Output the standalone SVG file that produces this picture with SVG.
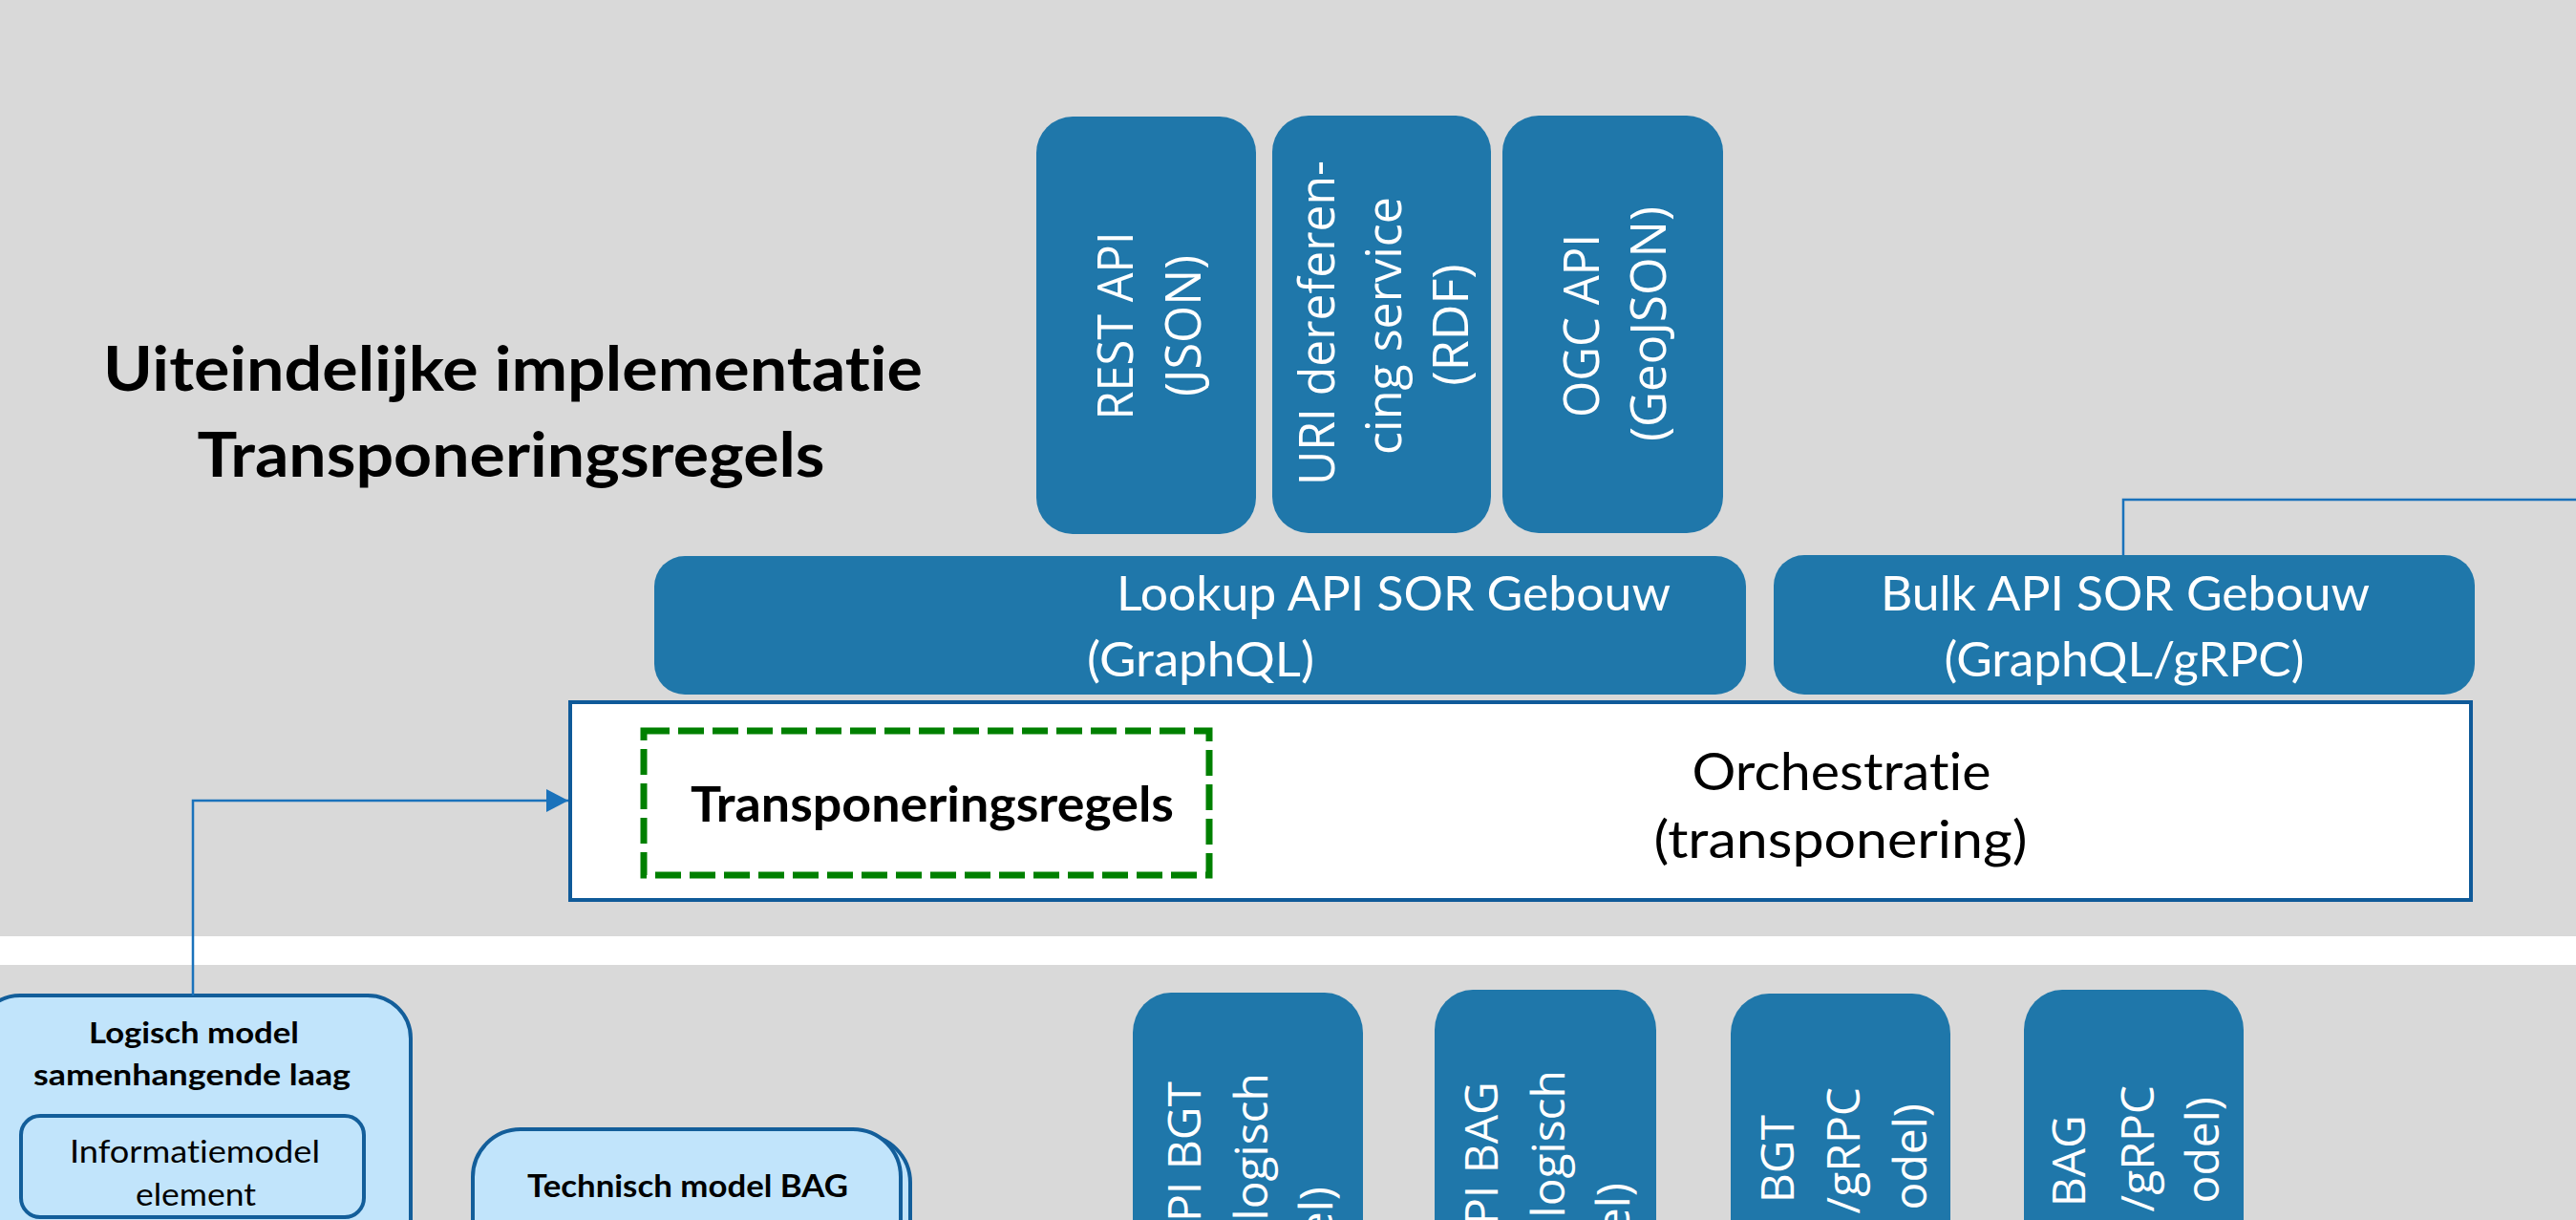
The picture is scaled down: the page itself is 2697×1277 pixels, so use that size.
<svg xmlns="http://www.w3.org/2000/svg" width="2697" height="1277" viewBox="0 0 2697 1277">
<style>
text{font-variant-ligatures:none}
.api{fill:#1f77aa}
.vt{font-family:"Open Sans","Liberation Sans",sans-serif;font-size:52px;fill:#ffffff}
.vb{font-family:"Open Sans","Liberation Sans",sans-serif;font-size:48px;fill:#ffffff}
.ht{font-family:Lato,"Liberation Sans",sans-serif;font-size:50px;fill:#ffffff}
.bk{font-family:Lato,"Liberation Sans",sans-serif;fill:#000000}
.bold{font-weight:bold}
.lb{fill:#c1e4fb;stroke:#135e9a;stroke-width:4}
.conn{fill:none;stroke:#1a72bb;stroke-width:2.5}
</style>
<defs>
<marker id="arr" viewBox="0 0 23 24" refX="23" refY="12" markerWidth="23" markerHeight="24" markerUnits="userSpaceOnUse" orient="auto">
<path d="M0,0 L23,12 L0,24 z" fill="#1a72bb"/>
</marker>
</defs>
<rect x="0" y="0" width="2697" height="1277" fill="#d9d9d9"/>
<rect x="0" y="980" width="2697" height="30" fill="#ffffff"/>

<g id="title">
<text class="bk bold" x="537" y="409" font-size="65" text-anchor="middle" textLength="858" lengthAdjust="spacingAndGlyphs">Uiteindelijke implementatie</text>
<text class="bk bold" x="535" y="499" font-size="65" text-anchor="middle" textLength="657" lengthAdjust="spacingAndGlyphs">Transponeringsregels</text>
</g>

<g id="rest-api">
<rect class="api" x="1085" y="122" width="230" height="437" rx="38" ry="38"/>
<text class="vt" transform="translate(1186,341) rotate(-90)" text-anchor="middle" textLength="197" lengthAdjust="spacingAndGlyphs">REST API</text>
<text class="vt" transform="translate(1257,341) rotate(-90)" text-anchor="middle" textLength="148" lengthAdjust="spacingAndGlyphs">(JSON)</text>
</g>

<g id="uri-service">
<rect class="api" x="1332" y="121" width="229" height="437" rx="38" ry="38"/>
<text class="vt" transform="translate(1397,338) rotate(-90)" text-anchor="middle" textLength="340" lengthAdjust="spacingAndGlyphs">URI dereferen-</text>
<text class="vt" transform="translate(1467,341) rotate(-90)" text-anchor="middle" textLength="270" lengthAdjust="spacingAndGlyphs">cing service</text>
<text class="vt" transform="translate(1537,340) rotate(-90)" text-anchor="middle">(RDF)</text>
</g>

<g id="ogc-api">
<rect class="api" x="1573" y="121" width="231" height="437" rx="38" ry="38"/>
<text class="vt" transform="translate(1674,341) rotate(-90)" text-anchor="middle" textLength="192" lengthAdjust="spacingAndGlyphs">OGC API</text>
<text class="vt" transform="translate(1744,339) rotate(-90)" text-anchor="middle" textLength="246" lengthAdjust="spacingAndGlyphs">(GeoJSON)</text>
</g>

<g id="lookup-api">
<rect class="api" x="685" y="582" width="1143" height="145" rx="32" ry="32"/>
<text class="ht" x="1169" y="639" textLength="580" lengthAdjust="spacingAndGlyphs">Lookup API SOR Gebouw</text>
<text class="ht" x="1138" y="708" textLength="238" lengthAdjust="spacingAndGlyphs">(GraphQL)</text>
</g>

<g id="bulk-api">
<rect class="api" x="1857" y="581" width="734" height="146" rx="32" ry="32"/>
<text class="ht" x="2225" y="639" text-anchor="middle" textLength="512" lengthAdjust="spacingAndGlyphs">Bulk API SOR Gebouw</text>
<text class="ht" x="2224" y="708" text-anchor="middle" textLength="377" lengthAdjust="spacingAndGlyphs">(GraphQL/gRPC)</text>
</g>

<g id="orchestratie">
<rect x="597" y="735" width="1990" height="207" fill="#ffffff" stroke="#0f5a99" stroke-width="4"/>
<text class="bk" x="1928" y="827" font-size="54" text-anchor="middle" textLength="313" lengthAdjust="spacingAndGlyphs">Orchestratie</text>
<text class="bk" x="1927" y="898" font-size="54" text-anchor="middle" textLength="391" lengthAdjust="spacingAndGlyphs">(transponering)</text>
</g>

<g id="transponeringsregels">
<rect x="674" y="765" width="592" height="151" fill="none" stroke="#008000" stroke-width="7" stroke-dasharray="27 9"/>
<text class="bk bold" x="976" y="860" font-size="52" text-anchor="middle" textLength="506" lengthAdjust="spacingAndGlyphs">Transponeringsregels</text>
</g>

<g id="logisch-model">
<rect class="lb" x="-24" y="1042" width="454" height="300" rx="45" ry="45"/>
<text class="bk bold" x="203" y="1092" font-size="31" text-anchor="middle" textLength="220" lengthAdjust="spacingAndGlyphs">Logisch model</text>
<text class="bk bold" x="201" y="1136" font-size="31" text-anchor="middle" textLength="332" lengthAdjust="spacingAndGlyphs">samenhangende laag</text>
<rect class="lb" x="22" y="1168" width="359" height="106" rx="20" ry="20" stroke-width="3.5"/>
<text class="bk" x="204" y="1217" font-size="32" text-anchor="middle" textLength="262" lengthAdjust="spacingAndGlyphs">Informatiemodel</text>
<text class="bk" x="205" y="1262" font-size="32" text-anchor="middle" textLength="126" lengthAdjust="spacingAndGlyphs">element</text>
</g>

<g id="technisch-model-bag">
<rect class="lb" x="503" y="1188" width="450" height="200" rx="50" ry="50" stroke-width="3"/>
<rect class="lb" x="495" y="1182" width="448" height="200" rx="50" ry="50"/>
<text class="bk bold" x="720" y="1253" font-size="32" text-anchor="middle" textLength="336" lengthAdjust="spacingAndGlyphs">Technisch model BAG</text>
</g>

<g id="api-bgt-logisch">
<rect class="api" x="1186" y="1039" width="241" height="320" rx="40" ry="42"/>
<text class="vb" transform="translate(1257,1132) rotate(-90)" text-anchor="end">PI BGT</text>
<text class="vb" transform="translate(1327,1123) rotate(-90)" text-anchor="end">logisch</text>
<text class="vb" transform="translate(1395,1242) rotate(-90)" text-anchor="end">el)</text>
</g>

<g id="api-bag-logisch">
<rect class="api" x="1502" y="1036" width="232" height="320" rx="40" ry="42"/>
<text class="vb" transform="translate(1568,1132) rotate(-90)" text-anchor="end">PI BAG</text>
<text class="vb" transform="translate(1638,1120) rotate(-90)" text-anchor="end">logisch</text>
<text class="vb" transform="translate(1706,1238) rotate(-90)" text-anchor="end">el)</text>
</g>

<g id="api-bgt-grpc">
<rect class="api" x="1812" y="1040" width="230" height="320" rx="40" ry="42"/>
<text class="vb" transform="translate(1878,1167) rotate(-90)" text-anchor="end">BGT</text>
<text class="vb" transform="translate(1947,1138) rotate(-90)" text-anchor="end">/gRPC</text>
<text class="vb" transform="translate(2017,1155) rotate(-90)" text-anchor="end">odel)</text>
</g>

<g id="api-bag-grpc">
<rect class="api" x="2119" y="1036" width="230" height="320" rx="40" ry="42"/>
<text class="vb" transform="translate(2183,1167) rotate(-90)" text-anchor="end">BAG</text>
<text class="vb" transform="translate(2255,1136) rotate(-90)" text-anchor="end">/gRPC</text>
<text class="vb" transform="translate(2323,1148) rotate(-90)" text-anchor="end">odel)</text>
</g>

<g id="connectors">
<path class="conn" d="M2697,523 L2223,523 L2223,581"/>
<path class="conn" d="M202,1042 L202,838 L595,838" marker-end="url(#arr)"/>
</g>
</svg>
